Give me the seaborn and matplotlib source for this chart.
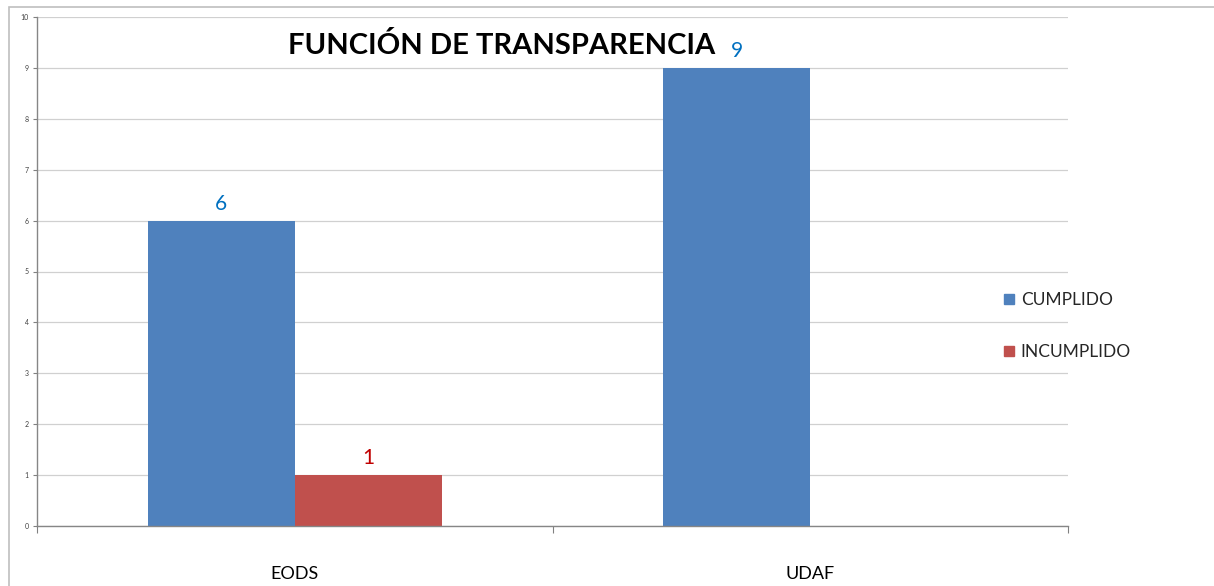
import pandas as pd
import seaborn as sns
import matplotlib.pyplot as plt
from matplotlib.lines import Line2D
from matplotlib.patches import Rectangle

categories = ['EODS', 'UDAF']
series = ['CUMPLIDO', 'INCUMPLIDO']
cumplido = [6, 9]
incumplido = [1, 0]

palette = {'CUMPLIDO': '#4F81BD', 'INCUMPLIDO': '#C0504D'}
label_colors = {'CUMPLIDO': '#0070C0', 'INCUMPLIDO': '#C00000'}

df = pd.DataFrame({
    'categoria': categories * 2,
    'serie': [series[0]] * 2 + [series[1]] * 2,
    'valor': cumplido + incumplido,
})

sns.set_style('white')
plt.rcParams['font.family'] = ['Lato', 'DejaVu Sans']

fig = plt.figure(figsize=(12.14, 5.86), dpi=100)
ax = fig.add_axes([37 / 1214, 1 - 526 / 586, (1068 - 37) / 1214, (526 - 17) / 586])

sns.barplot(data=df, x='categoria', y='valor', hue='serie', palette=palette,
            hue_order=series, order=categories, width=0.571, ax=ax,
            saturation=1, legend=False, errorbar=None, linewidth=0)

# value labels above the bars
for cont, s in zip(ax.containers, series):
    labels = [f'{v:g}' if v > 0 else '' for v in cont.datavalues]
    ax.bar_label(cont, labels=labels, padding=5, fontsize=15,
                 color=label_colors[s])

ax.set_xlim(-0.5, 1.5)
ax.set_ylim(0, 10)
ax.set_yticks(range(0, 11))
ax.tick_params(axis='y', labelsize=5, colors='#404040', length=3, width=0.8,
               direction='out', left=True, pad=3)
ax.tick_params(axis='y', color='#808080')
ax.set_xticks([0, 1])
ax.set_xticklabels(categories, fontsize=13, color='black')
ax.set_xticks([-0.5, 0.5, 1.5], minor=True)
ax.tick_params(axis='x', which='major', length=0, pad=29)
ax.tick_params(axis='x', which='minor', length=5, width=0.8, color='#808080',
               direction='out', bottom=True)
ax.set_xlabel('')
ax.set_ylabel('')
ax.yaxis.grid(True, color='#d0d0d0', linewidth=0.9)
ax.set_axisbelow(True)
for side in ['top', 'right']:
    ax.spines[side].set_visible(False)
for side in ['left', 'bottom']:
    ax.spines[side].set_color('#868686')
    ax.spines[side].set_linewidth(1)

# title
fig.text(502 / 1214, 1 - 45 / 586, 'FUNCIÓN DE TRANSPARENCIA', ha='center',
         va='center', fontsize=21, fontweight='bold', color='black')

# legend
handles = [Line2D([], [], marker='s', linestyle='', markersize=7,
                  markerfacecolor=palette[s], markeredgecolor=palette[s])
           for s in series]
fig.legend(handles, series, loc='upper left',
           bbox_to_anchor=(992 / 1214, 1 - 285 / 586), frameon=False,
           fontsize=12.5, labelspacing=2.1, handletextpad=0.05,
           handlelength=1.2, borderaxespad=0)

# outer chart frame (cut off at the right and bottom)
fig.patches.append(Rectangle((9 / 1214, -0.1), 1.2, 1.1 - 7 / 586,
                             transform=fig.transFigure, fill=False,
                             edgecolor='#bfbfbf', linewidth=1.2))

fig.savefig('out.png', dpi=100)
